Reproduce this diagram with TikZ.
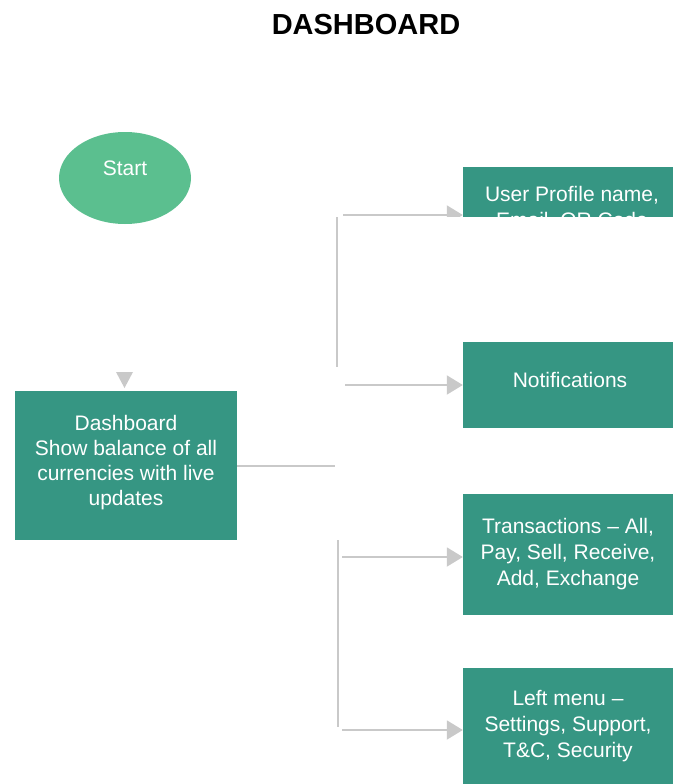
\documentclass[tikz,border=0pt]{standalone}
\usepackage{fontspec}
\setmainfont{Liberation Sans}
\usetikzlibrary{arrows.meta,shapes.geometric}
\definecolor{boxteal}{HTML}{369683}
\definecolor{startgreen}{HTML}{5BBF8F}
\definecolor{linegray}{HTML}{C9C9C9}
\begin{document}
\begin{tikzpicture}[x=1pt,y=-1pt,
  font=\fontsize{21}{26}\selectfont,
  stepbox/.style={fill=boxteal, draw=none, text=white, align=center, inner sep=0pt},
  boxtext/.style={text=white, align=center, inner sep=0pt},
  link/.style={draw=linegray, line width=2pt},
  arrowlink/.style={link, -{Triangle[length=16pt,width=19pt]}}]
\useasboundingbox (0,0) rectangle (673,784);

% title
\node[font=\fontsize{29}{34}\selectfont\bfseries] (title) at (366,25) {DASHBOARD};

% start terminal
\node[ellipse, fill=startgreen, minimum width=132pt, minimum height=92pt, inner sep=0pt] (start) at (125,178) {};
\node[text=white, anchor=base] (starttext) at (125,175.5) {Start};

% main dashboard box
\node[stepbox, minimum width=222pt, minimum height=149pt] (dash) at (126,465.5) {};
\node[boxtext, font=\fontsize{21}{25}\selectfont] (dashtext) at (126,463)
  {Dashboard\\Show balance of all\\currencies with live\\updates};
\fill[linegray] (116,372) -- (133,372) -- (124.5,388) -- cycle;

% right-hand boxes
\node[stepbox, minimum width=210pt, minimum height=86pt] (notif) at (568,385) {};
\node[boxtext] (notiftext) at (570,380) {Notifications};
\node[stepbox, minimum width=210pt, minimum height=121pt] (trans) at (568,554.5)
  {Transactions -- All,\\Pay, Sell, Receive,\\Add, Exchange};
\node[stepbox, minimum width=210pt, minimum height=116pt] (menu) at (568,726)
  {Left menu --\\Settings, Support,\\T\&C, Security};

% junction points
\coordinate (hub) at (335,466);
\coordinate (upTop) at (337,217);
\coordinate (upBot) at (337,367);
\coordinate (upA) at (343,215);
\coordinate (upB) at (345,385);
\coordinate (loTop) at (338,540);
\coordinate (loBot) at (338,727);
\coordinate (loA) at (342,557);
\coordinate (loB) at (342,730);

% profile box, cut off below its first line
\begin{scope}
  \clip (0,0) rectangle (673,216);
  \node[stepbox, minimum width=210pt, minimum height=96pt] (profile) at (568,215) {};
  \node[text=white, anchor=base, align=center] (profiletext) at (572,227.5)
    {User Profile name,\\Email, QR Code};
  \draw[arrowlink] (upA) -- (profile.west);
\end{scope}

% connectors
\draw[link] (dash.east |- hub) -- (hub);
\draw[link] (upTop) -- (upBot);
\draw[link] (loTop) -- (loBot);
\draw[arrowlink] (upB) -- (notif.west |- upB);
\draw[arrowlink] (loA) -- (trans.west |- loA);
\draw[arrowlink] (loB) -- (menu.west |- loB);
\end{tikzpicture}
\end{document}
